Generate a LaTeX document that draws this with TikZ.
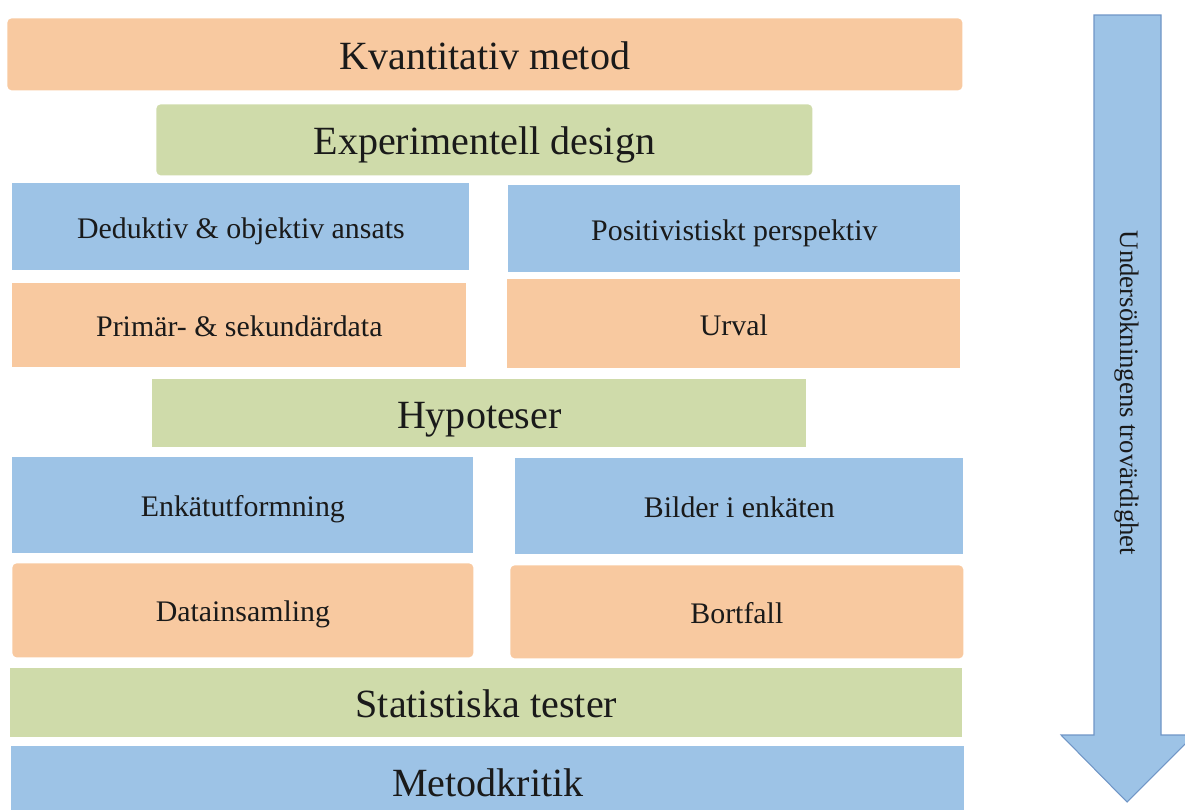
\documentclass[tikz,border=0pt]{standalone}
\usepackage{fontspec}
\setmainfont{Liberation Serif}
\usetikzlibrary{positioning}
\definecolor{peach}{HTML}{F8C9A0}
\definecolor{sage}{HTML}{CFDBAA}
\definecolor{sky}{HTML}{9DC3E6}
\definecolor{skyline}{HTML}{6F95C6}
\definecolor{ink}{HTML}{1A1A1A}
\tikzset{
  blk/.style 2 args = {anchor=north west, inner sep=0, minimum width=#1*0.02cm,
                       minimum height=#2*0.02cm, text=ink, text depth=0pt},
  big/.style = {font=\fontsize{22.8}{26}\selectfont, text height=17pt},
  small/.style = {font=\fontsize{17}{20}\selectfont, text height=12.8pt},
  soft/.style = {rounded corners=2.5pt},
}

\begin{document}
\begin{tikzpicture}[x=0.02cm, y=-0.02cm]
    \useasboundingbox (0,0) rectangle (1185,809);
    % left column of blocks
    \node[blk={955}{72}, fill=peach, soft, big] (kvant) at (7,18) {Kvantitativ metod};
    \node[blk={656}{71}, fill=sage, soft, big] (exp) at (156,104) {Experimentell design};
    \node[blk={457}{87}, fill=sky, small] (dedukt) at (12,183) {Deduktiv \& objektiv ansats};
    \node[blk={452}{87}, fill=sky, small] (posit) at (508,185) {Positivistiskt perspektiv};
    \node[blk={454}{84}, fill=peach, small] (prim) at (12,283) {Primär- \& sekundärdata};
    \node[blk={453}{89}, fill=peach, small] (urval) at (507,279) {Urval};
    \node[blk={654}{68}, fill=sage, big] (hyp) at (152,379) {Hypoteser};
    \node[blk={461}{96}, fill=sky, small] (enkat) at (12,457) {Enkätutformning};
    \node[blk={448}{96}, fill=sky, small] (bilder) at (515,458) {Bilder i enkäten};
    \node[blk={461}{94}, fill=peach, soft, small] (data) at (12,563) {Datainsamling};
    \node[blk={453}{93}, fill=peach, soft, small] (bort) at (510,565) {Bortfall};
    \node[blk={952}{69}, fill=sage, big] (stat) at (10,668) {Statistiska tester};
    \node[blk={953}{70}, fill=sky, big] (metod) at (11,746) {Metodkritik};
    % arrow on the right
    \draw[skyline, fill=sky, line width=0.6pt]
        (1094,15) -- (1161,15) -- (1161,735) -- (1194,735) -- (1127,802)
        -- (1061,735) -- (1094,735) -- cycle;
    \node[rotate=-90, text=ink, font=\fontsize{15.2}{18}\selectfont] (trov) at (1127,393)
        {Undersökningens trovärdighet};
\end{tikzpicture}
\end{document}
